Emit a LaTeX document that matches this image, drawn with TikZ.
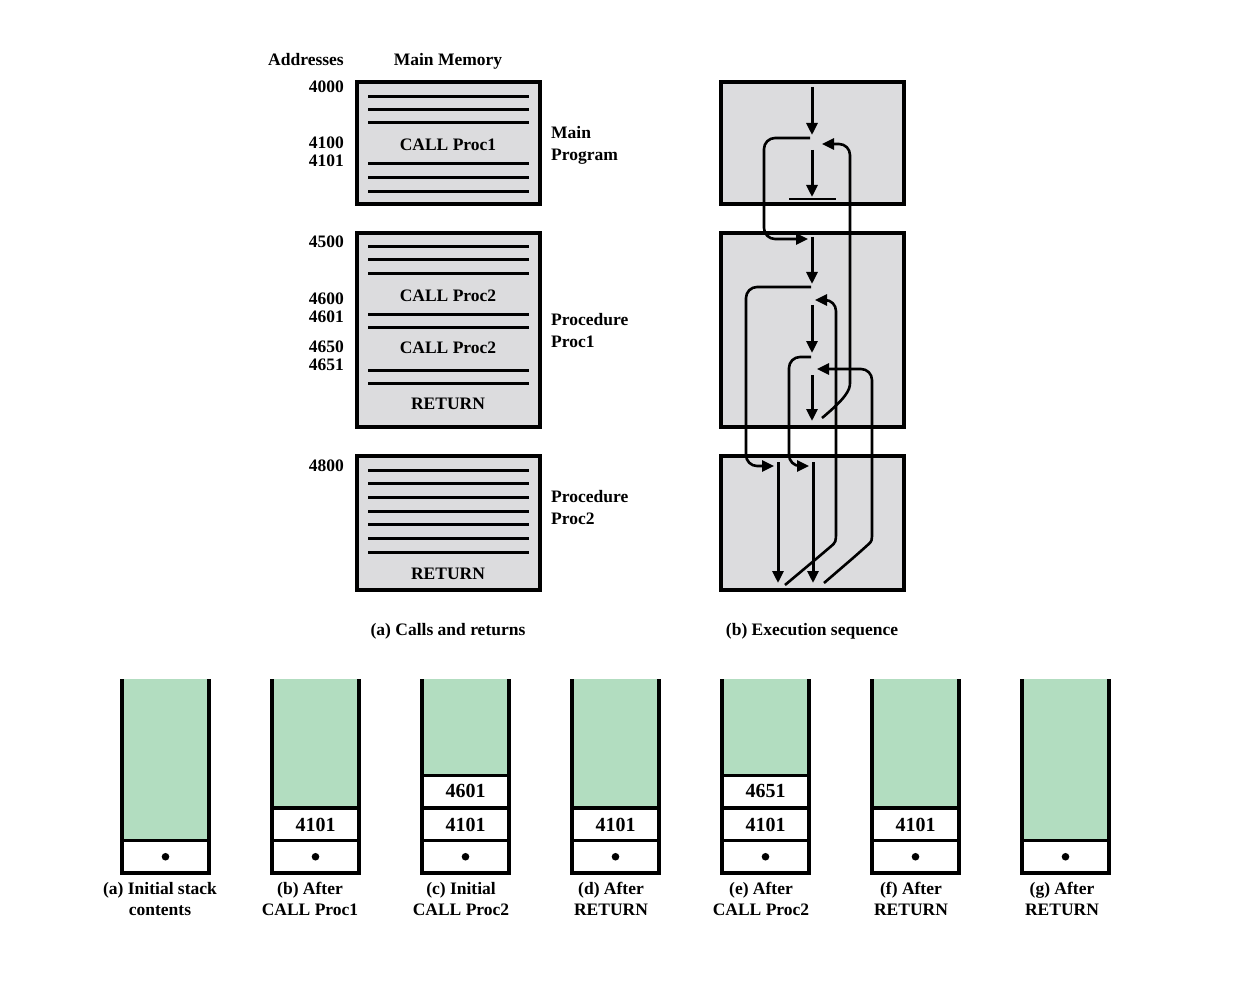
\documentclass[tikz,border=0pt]{standalone}
\usepackage{fontspec}
\setmainfont{Liberation Serif}
\usetikzlibrary{arrows.meta}
\definecolor{memgray}{HTML}{DCDCDE}
\definecolor{stackgreen}{HTML}{B2DDC0}
\begin{document}
\begin{tikzpicture}[x=1pt,y=-1pt,
  font=\fontsize{17.5}{21}\selectfont\bfseries,
  every node/.style={inner sep=0pt, text height=11.5pt, text depth=0pt},
  txt/.style={anchor=center},
  num/.style={anchor=center, font=\fontsize{20}{24}\selectfont\bfseries, text height=13pt},
  addr/.style={anchor=east},
  lbl/.style={anchor=west},
  membox/.style={draw=black, fill=memgray, line width=3.5pt},
  memline/.style={line width=3pt},
  flow/.style={line width=3pt, -{Triangle[length=12pt,width=11pt]}},
  link/.style={line width=2.6pt, rounded corners=11pt, -{Triangle[length=12pt,width=11pt]}},
  endbar/.style={line width=1.8pt},
  wall/.style={line width=4.5pt},
  cellsep/.style={line width=3.5pt},
  cellfill/.style={fill=white},
  emptyfill/.style={fill=stackgreen}]
\useasboundingbox (0,0) rectangle (1245,984);

% ---------- (a) calls and returns ----------
\node[txt] (hAddr) at (306,60) {Addresses};
\node[txt] (hMem) at (448,60) {Main Memory};

\draw[membox] (357,82) rectangle (540,204);
\draw[membox] (357,233) rectangle (540,427);
\draw[membox] (357,456) rectangle (540,590);

\foreach \y in {97,110,123,164,178,192, 247,260,274,315,328,370,383, 470,483,497,511,524,538,552}
  \draw[memline] (368,\y) -- (529,\y);

\node[txt] (c1) at (448,145) {CALL Proc1};
\node[txt] (c2) at (448,296) {CALL Proc2};
\node[txt] (c3) at (448,348) {CALL Proc2};
\node[txt] (r1) at (448,404) {RETURN};
\node[txt] (r2) at (448,574) {RETURN};

\node[addr] (a4000) at (344,87) {4000};
\node[addr] (a4100) at (344,143) {4100};
\node[addr] (a4101) at (344,161) {4101};
\node[addr] (a4500) at (344,242) {4500};
\node[addr] (a4600) at (344,299) {4600};
\node[addr] (a4601) at (344,317) {4601};
\node[addr] (a4650) at (344,347) {4650};
\node[addr] (a4651) at (344,365) {4651};
\node[addr] (a4800) at (344,466) {4800};

\node[lbl] (mp1) at (551,133) {Main};
\node[lbl] (mp2) at (551,155) {Program};
\node[lbl] (p11) at (551,320) {Procedure};
\node[lbl] (p12) at (551,342) {Proc1};
\node[lbl] (p21) at (551,497) {Procedure};
\node[lbl] (p22) at (551,519) {Proc2};

\node[txt] (capA) at (448,630) {(a) Calls and returns};
\node[txt] (capB) at (812,630) {(b) Execution sequence};

% ---------- (b) execution sequence ----------
\draw[membox] (721,82) rectangle (904,204);
\draw[membox] (721,233) rectangle (904,427);
\draw[membox] (721,456) rectangle (904,590);

% main program
\draw[flow] (812,87) -- (812,135);
\draw[flow] (812,150) -- (812,197);
\draw[endbar] (789,199) -- (836,199);
\draw[link] (810,138) -- (764,138) -- (764,239) -- (808,239);

% Proc1
\draw[flow] (812,237) -- (812,284);
\draw[link] (811,287) -- (746,287) -- (746,466) -- (774,466);
\draw[flow] (812,305) -- (812,353);
\draw[link] (811,357) -- (789,357) -- (789,466) -- (809,466);
\draw[flow] (812,375) -- (812,421);
\draw[link] (822,418) .. controls (846,398) and (850,390) .. (850,372) -- (850,144) -- (822,144);

% Proc2
\draw[flow] (778,462) -- (778,583);
\draw[flow] (813,462) -- (813,583);
\draw[link] (785,585) -- (822,554) .. controls (836,542) .. (836,520) -- (836,300) -- (815,300);
\draw[link] (824,583) -- (860,552) .. controls (872,541) .. (872,520) -- (872,369) -- (817,369);

% ---------- stacks ----------
\foreach \L/\n in {122/1,272/2,422/3,572/2,722/3,872/2,1022/1}{
  \fill[emptyfill] (\L,679) rectangle (\L+87,873-32.5*\n);
  \fill[cellfill] (\L,873-32.5*\n) rectangle (\L+87,873);
  \foreach \k in {1,...,\n}
    \draw[cellsep] (\L,873-32.5*\k) -- (\L+87,873-32.5*\k);
  \draw[wall] (\L,679) -- (\L,873) -- (\L+87,873) -- (\L+87,679);
  \fill (\L+43.5,856.75) circle (3.8);
}

\node[num] (sb1) at (315.5,825) {4101};
\node[num] (sc1) at (465.5,825) {4101};
\node[num] (sc2) at (465.5,791) {4601};
\node[num] (sd1) at (615.5,825) {4101};
\node[num] (se1) at (765.5,825) {4101};
\node[num] (se2) at (765.5,791) {4651};
\node[num] (sf1) at (915.5,825) {4101};

\node[txt] (la1) at (160,889) {(a) Initial stack};
\node[txt] (la2) at (160,910) {contents};
\node[txt] (lb1) at (310,889) {(b) After};
\node[txt] (lb2) at (310,910) {CALL Proc1};
\node[txt] (lc1) at (461,889) {(c) Initial};
\node[txt] (lc2) at (461,910) {CALL Proc2};
\node[txt] (ld1) at (611,889) {(d) After};
\node[txt] (ld2) at (611,910) {RETURN};
\node[txt] (le1) at (761,889) {(e) After};
\node[txt] (le2) at (761,910) {CALL Proc2};
\node[txt] (lf1) at (911,889) {(f) After};
\node[txt] (lf2) at (911,910) {RETURN};
\node[txt] (lg1) at (1062,889) {(g) After};
\node[txt] (lg2) at (1062,910) {RETURN};
\end{tikzpicture}
\end{document}
